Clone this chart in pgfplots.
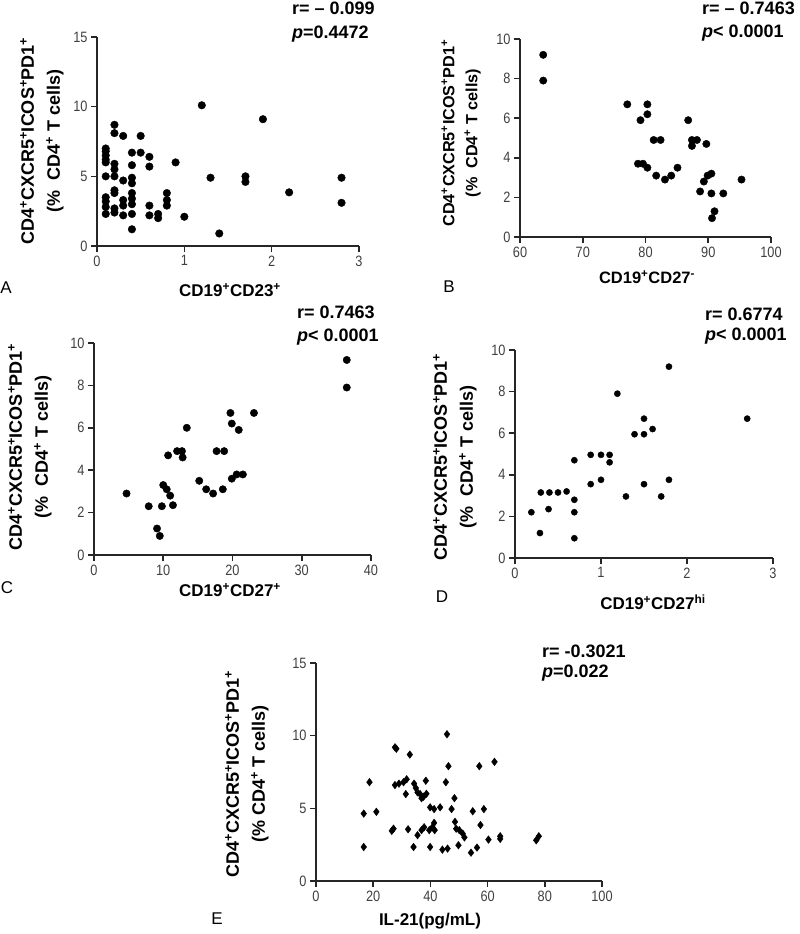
\documentclass[border=0pt]{standalone}
\usepackage{pgfplots}
\pgfplotsset{compat=1.18}
\usepackage{fontspec}
\setmainfont{Liberation Sans}
\newfontfamily\narrowfont[FakeStretch=0.85]{Liberation Sans}
\pgfplotsset{
  panel/.style={
    scale only axis, anchor=south west,
    axis lines=left,
    axis line style={-, line width=1.8pt, draw=black!85},
    every outer x axis line/.append style={-, line width=1.8pt, draw=black!85},
    every outer y axis line/.append style={-, line width=1.8pt, draw=black!85},
    tick align=outside, major tick length=6pt,
    xtick style={line width=1.6pt, draw=black!85},
    ytick style={line width=1.6pt, draw=black!85},
    xticklabel style={font=\narrowfont\fontsize{15}{15}\selectfont, text=black!75},
    yticklabel style={font=\narrowfont\fontsize{15}{15}\selectfont, text=black!75},
    /pgf/number format/assume math mode=true,
    clip=false,
  },
  dots/.style={only marks, mark=*, black, mark options={fill=black, draw=black}},
}
\newcommand{\plussup}{\textsuperscript{+}}
\newcommand{\ylab}{CD4\plussup CXCR5\plussup ICOS\plussup PD1\plussup\\(\%\ \ CD4\plussup\ T cells)}
\begin{document}
\begin{tikzpicture}
\useasboundingbox (0pt,0pt) rectangle (800pt,-934pt);

% ---------------- A
\begin{axis}[panel, at={(97pt,-246pt)}, width=262pt, height=209pt,
  xmin=0, xmax=3, ymin=0, ymax=15, xtick={0,1,2,3}, ytick={0,5,10,15}]
\addplot[dots, mark size=3.8pt] coordinates {
(1.2,10.1)(1.9,9.1)(2.8,4.9)(2.8,3.1)(2.2,3.85)(1.7,5.0)(1.7,4.6)(1.3,4.9)(1.4,0.9)(1.0,2.1)
(0.9,6.0)(0.8,3.8)(0.8,3.3)(0.8,2.9)(0.7,2.3)(0.7,2.0)(0.6,2.9)(0.6,2.2)(0.6,6.4)(0.6,5.7)
(0.5,7.9)(0.5,6.7)(0.4,6.7)(0.4,5.8)(0.4,4.9)(0.4,4.5)(0.4,3.8)(0.4,3.4)(0.4,3.0)(0.4,2.3)
(0.4,1.2)(0.3,7.9)(0.3,4.7)(0.3,3.3)(0.3,2.9)(0.3,2.2)(0.2,8.7)(0.2,8.1)(0.2,5.9)(0.2,5.5)
(0.2,5.0)(0.2,4.0)(0.2,3.8)(0.2,2.7)(0.2,2.4)(0.1,7.0)(0.1,6.8)(0.1,6.5)(0.1,6.2)(0.1,6.0)
(0.1,5.0)(0.1,3.5)(0.1,3.2)(0.1,2.8)(0.1,2.3)
};
\end{axis}

% ---------------- B
\begin{axis}[panel, at={(520pt,-237pt)}, width=251pt, height=198pt,
  xmin=60, xmax=100, ymin=0, ymax=10, xtick={60,70,80,90,100}, ytick={0,2,4,6,8,10}]
\addplot[dots, mark size=3.7pt] coordinates {
(63.7,9.2)(63.7,7.9)(77.1,6.7)(79.2,5.9)(80.3,6.7)(80.3,6.2)(81.3,4.9)(82.4,4.9)(78.8,3.7)(79.6,3.7)
(80.3,3.5)(81.7,3.1)(83.1,2.9)(84.1,3.1)(85.1,3.5)(86.8,5.9)(87.4,4.9)(87.4,4.6)(88.2,4.9)(89.7,4.7)
(88.7,2.3)(89.3,2.8)(89.9,3.1)(90.5,3.2)(90.5,2.2)(92.4,2.2)(95.3,2.9)(91.0,1.3)(90.6,0.95)
};
\end{axis}

% ---------------- C
\begin{axis}[panel, at={(94pt,-555pt)}, width=277pt, height=212pt,
  xmin=0, xmax=40, ymin=0, ymax=10, xtick={0,10,20,30,40}, ytick={0,2,4,6,8,10}]
\addplot[dots, mark size=3.7pt] coordinates {
(36.5,9.2)(36.5,7.9)(23.1,6.7)(19.7,6.7)(19.9,6.2)(20.9,5.9)(13.4,6.0)(10.7,4.7)(12.0,4.9)(12.7,4.9)
(12.8,4.6)(17.7,4.9)(18.8,4.9)(15.2,3.5)(16.2,3.1)(17.2,2.9)(18.6,3.1)(19.9,3.6)(20.6,3.8)(21.5,3.8)
(4.7,2.9)(7.9,2.3)(9.8,2.3)(10.0,3.3)(10.5,3.1)(11.0,2.8)(11.4,2.35)(9.1,1.25)(9.5,0.9)
};
\end{axis}

% ---------------- D
\begin{axis}[panel, at={(515pt,-558pt)}, width=258pt, height=208pt,
  xmin=0, xmax=3, ymin=0, ymax=10, xtick={0,1,2,3}, ytick={0,2,4,6,8,10}]
\addplot[dots, mark size=3.1pt] coordinates {
(0.19,2.2)(0.29,1.2)(0.3,3.15)(0.4,3.15)(0.5,3.15)(0.6,3.2)(0.39,2.35)(0.69,4.7)(0.69,2.8)(0.69,2.2)
(0.69,0.95)(0.88,4.96)(0.88,3.55)(1.0,4.96)(1.0,3.76)(1.1,4.96)(1.1,4.6)(1.19,7.9)(1.29,2.96)(1.39,5.95)
(1.5,5.95)(1.5,6.7)(1.5,3.55)(1.6,6.2)(1.7,2.96)(1.79,9.2)(1.79,3.76)(2.7,6.7)
};
\end{axis}

% ---------------- E
\begin{axis}[panel, at={(316pt,-881pt)}, width=286pt, height=218pt,
  xmin=0, xmax=100, ymin=0, ymax=15, xtick={0,20,40,60,80,100}, ytick={0,5,10,15}]
\addplot[only marks, mark=diamond*, mark size=3.8pt, black] coordinates {
(45.8,10.1)(27.6,9.2)(28.1,9.1)(32.8,8.7)(46.3,7.9)(57.1,7.9)(62.4,8.2)(18.7,6.8)
(27.6,6.6)(29.0,6.7)(30.6,6.8)(31.7,7.0)(31.4,5.98)(34.3,6.7)(34.9,6.4)(35.5,6.1)(36.4,5.98)
(36.9,5.7)(37.6,5.8)(38.4,6.9)(38.6,6.0)(45.4,6.8)(39.9,5.07)(41.3,4.95)(43.4,5.07)(47.4,4.95)
(48.4,5.7)(54.8,4.8)(58.7,4.95)(16.7,4.64)(21.1,4.76)(16.7,2.34)(26.5,3.45)(27.1,3.6)(32.2,3.56)
(34.1,2.34)(35.5,3.15)(36.9,3.5)(37.8,3.7)(39.9,2.34)(39.6,3.5)(40.7,3.7)(41.5,3.5)(41.3,4.0)
(44.2,2.16)(46.0,2.23)(48.6,4.07)(49.0,3.6)(50.1,3.5)(51.3,3.26)(51.9,3.0)(49.8,2.46)(54.2,1.95)
(56.3,2.3)(57.5,3.85)(60.3,2.85)(64.4,3.08)(64.4,2.9)(77.0,2.8)(77.9,3.08)
};
\end{axis}

% ---------------- texts
\tikzset{lab/.style={font=\bfseries\fontsize{18}{26}\selectfont, align=center, inner sep=0pt},
         rp/.style={font=\bfseries\fontsize{18}{18}\selectfont, anchor=base west, inner sep=0pt},
         let/.style={font=\fontsize{17}{17}\selectfont, inner sep=0pt}}
% A
\node[lab, rotate=90] at (42pt,-141pt) {\ylab};
\node[lab, font=\bfseries\fontsize{17}{17}\selectfont] at (230pt,-290pt) {CD19\plussup CD23\plussup};
\node[let] at (6pt,-288pt) {A};
\node[rp] at (292pt,-15pt) {r= – 0.099};
\node[rp] at (292pt,-39pt) {\textit{p}=0.4472};
% B
\node[lab, rotate=90, font=\bfseries\fontsize{16.2}{23}\selectfont] at (461pt,-133pt) {\ylab};
\node[lab, font=\bfseries\fontsize{16.5}{17}\selectfont] at (647pt,-277pt) {CD19\plussup CD27\textsuperscript{-}};
\node[let] at (449pt,-287pt) {B};
\node[rp] at (702pt,-15pt) {r= – 0.7463};
\node[rp] at (702pt,-38pt) {\textit{p}< 0.0001};
% C
\node[lab, rotate=90] at (30pt,-447pt) {\ylab};
\node[lab, font=\bfseries\fontsize{17}{17}\selectfont] at (230pt,-590pt) {CD19\plussup CD27\plussup};
\node[let] at (7pt,-588pt) {C};
\node[rp] at (297pt,-318pt) {r= 0.7463};
\node[rp] at (297pt,-341pt) {\textit{p}< 0.0001};
% D
\node[lab, rotate=90] at (455pt,-457pt) {\ylab};
\node[lab, font=\bfseries\fontsize{17}{17}\selectfont] at (653pt,-602pt) {CD19\plussup CD27\textsuperscript{hi}};
\node[let] at (442pt,-597pt) {D};
\node[rp] at (705pt,-320pt) {r= 0.6774};
\node[rp] at (705pt,-340pt) {\textit{p}< 0.0001};
% E
\node[lab, rotate=90] at (247pt,-774pt) {CD4\plussup CXCR5\plussup ICOS\plussup PD1\plussup\\(\% CD4\plussup\ T cells)};
\node[lab, font=\bfseries\fontsize{17}{17}\selectfont] at (430pt,-921pt) {IL-21(pg/mL)};
\node[let] at (217pt,-919pt) {E};
\node[rp] at (542pt,-657pt) {r= -0.3021};
\node[rp] at (542pt,-677pt) {\textit{p}=0.022};
\end{tikzpicture}
\end{document}
